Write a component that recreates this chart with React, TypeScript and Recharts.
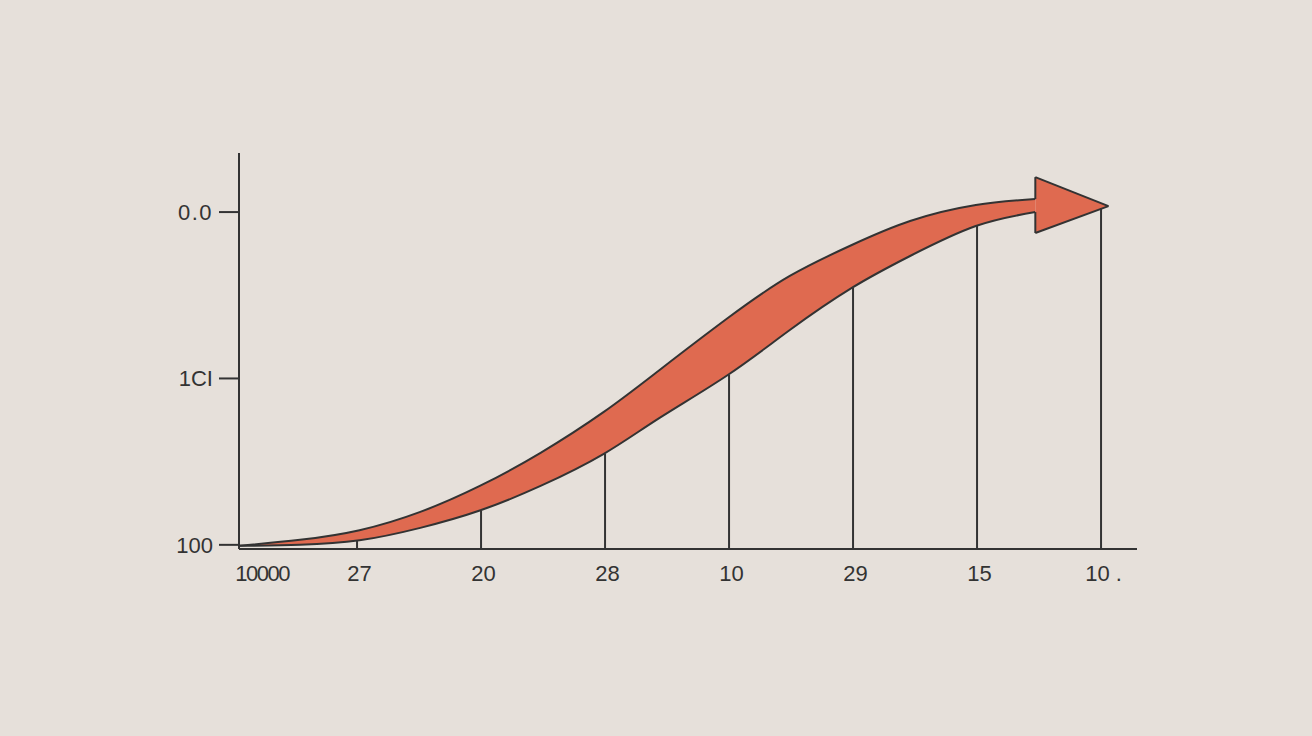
import React from "react";
import { ComposedChart, Area, XAxis, YAxis, ReferenceLine } from "recharts";

// Band (the curved arrow body): x position, lower edge, upper edge
const bandX = [0.05, 0.54, 1.02, 1.51, 1.99, 2.48, 2.99, 3.44, 3.99, 4.49, 4.99, 5.46, 5.99, 6.47];
const bandLower = [-0.006, 0.0, 0.027, 0.102, 0.206, 0.354, 0.547, 0.763, 1.021, 1.291, 1.544, 1.736, 1.916, 2.0];
const bandUpper = [-0.006, 0.03, 0.088, 0.198, 0.354, 0.553, 0.799, 1.051, 1.363, 1.616, 1.802, 1.946, 2.042, 2.078];

// Arrow head
const headX = [6.47, 7.06];
const headBottom = [1.874, 2.036];
const headTop = [2.21, 2.036];

// Drop lines from the x axis up to the band
const dropX = [1, 2, 3, 4, 5, 6, 7];
const dropTop = [0.024, 0.204, 0.547, 1.021, 1.544, 1.916, 2.024];

// Axis ticks
const xTickPositions = [0.05, 1, 2, 3, 4, 5, 6, 7];
const xTickLabels = ["10000", "27", "20", "28", "10", "29", "15", "10 ."];
const yTickPositions = [0, 1, 2];
const yTickLabels = ["100", "1CI", "0.0"];

const X_DOMAIN: [number, number] = [0.048, 7.29];
const Y_DOMAIN: [number, number] = [-0.025, 2.355];

const INK = "#333333";
const FILL = "#df6a50";
const BG = "#e6e0da";

type Row = { x: number; band: [number, number] | null; head: [number, number] | null };

const rows: Row[] = [];
bandX.forEach((x, i) => {
  rows.push({ x, band: [bandLower[i], bandUpper[i]], head: null });
});
headX.forEach((x, i) => {
  const existing = rows.find((r) => r.x === x);
  if (existing) existing.head = [headBottom[i], headTop[i]];
  else rows.push({ x, band: null, head: [headBottom[i], headTop[i]] });
});
rows.sort((a, b) => a.x - b.x);

const XTick = (props: any) => {
  const { x, y, payload } = props;
  const idx = xTickPositions.indexOf(payload.value);
  const label = xTickLabels[idx] ?? "";
  const first = idx === 0;
  return (
    <text
      x={first ? x - 4 : x + 2.5}
      y={y}
      dy="0.71em"
      textAnchor={first ? "start" : "middle"}
      fill={INK}
      fontSize={22}
      letterSpacing={first ? -1.5 : 0}
      fontFamily="'Liberation Sans', Arial, sans-serif"
    >
      {label}
    </text>
  );
};

const YTick = (props: any) => {
  const { x, y, payload } = props;
  const idx = yTickPositions.indexOf(payload.value);
  const label = yTickLabels[idx] ?? "";
  return (
    <text
      x={x}
      y={y}
      dy="0.355em"
      textAnchor="end"
      fill={INK}
      fontSize={22}
      letterSpacing={label === "0.0" ? 1.5 : 0}
      fontFamily="'Liberation Sans', Arial, sans-serif"
    >
      {label}
    </text>
  );
};

export default function App() {
  return (
    <div style={{ width: 1312, height: 736, background: BG }}>
      <style>{`html,body{margin:0;padding:0;background:${BG};}`}</style>
      <ComposedChart
        width={1312}
        height={736}
        data={rows}
        margin={{ top: 153, right: 175, bottom: 147, left: 179 }}
      >
        <XAxis
          type="number"
          dataKey="x"
          domain={X_DOMAIN}
          ticks={xTickPositions}
          allowDataOverflow
          height={40}
          tickSize={0}
          tickMargin={16}
          tickLine={false}
          axisLine={{ stroke: INK, strokeWidth: 2 }}
          tick={<XTick />}
          interval={0}
        />
        <YAxis
          type="number"
          domain={Y_DOMAIN}
          ticks={yTickPositions}
          allowDataOverflow
          width={60}
          tickSize={20}
          tickMargin={6}
          tickLine={{ stroke: INK, strokeWidth: 2 }}
          axisLine={{ stroke: INK, strokeWidth: 2 }}
          tick={<YTick />}
          interval={0}
        />
        {dropX.map((x, i) => (
          <ReferenceLine
            key={`drop-${i}`}
            segment={[
              { x, y: Y_DOMAIN[0] },
              { x, y: dropTop[i] },
            ]}
            stroke={INK}
            strokeWidth={2}
            ifOverflow="visible"
          />
        ))}
        <Area
          type="natural"
          dataKey="band"
          stroke={INK}
          strokeWidth={2}
          fill={FILL}
          fillOpacity={1}
          isAnimationActive={false}
          dot={false}
          activeDot={false}
        />
        <Area
          type="linear"
          dataKey="head"
          stroke={INK}
          strokeWidth={2}
          strokeLinejoin="miter"
          fill={FILL}
          fillOpacity={1}
          isAnimationActive={false}
          dot={false}
          activeDot={false}
        />
        <ReferenceLine
          segment={[
            { x: headX[0], y: headTop[0] },
            { x: headX[0], y: bandUpper[bandUpper.length - 1] },
          ]}
          stroke={INK}
          strokeWidth={2}
          ifOverflow="visible"
        />
        <ReferenceLine
          segment={[
            { x: headX[0], y: bandLower[bandLower.length - 1] },
            { x: headX[0], y: headBottom[0] },
          ]}
          stroke={INK}
          strokeWidth={2}
          ifOverflow="visible"
        />
      </ComposedChart>
    </div>
  );
}
